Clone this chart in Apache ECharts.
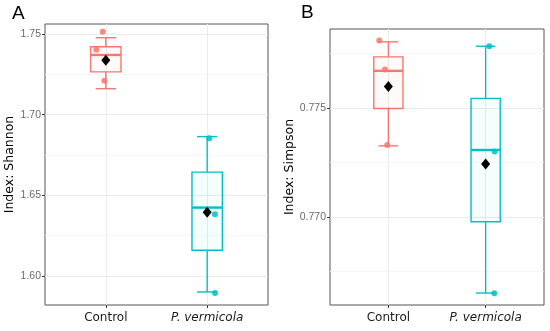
<!DOCTYPE html>
<html>
<head>
<meta charset="utf-8">
<script src="https://cdn.jsdelivr.net/npm/echarts@6/dist/echarts.min.js"></script>
<style>
html,body{margin:0;padding:0;background:#fff;}
#chart{width:550px;height:331px;}
</style>
</head>
<body>
<div id="chart"></div>
<script>
// ---- data ----
const categories = ['Control', 'P. vermicola'];
const groupPositions = [1, 2];

// boxplot stats: [lower whisker, Q1, median, Q3, upper whisker]
const shannonStats = [
  [1.7161, 1.7265, 1.7370, 1.7421, 1.7477],
  [1.5901, 1.6159, 1.6424, 1.6644, 1.6864]
];
const shannonMeans = [1.7337, 1.6395];
const shannonPoints = [
  [1.7514, 1.7403, 1.7210],
  [1.6853, 1.6382, 1.5895]
];
const shannonJitter = [
  [-0.031, -0.094, -0.015],
  [0.021, 0.077, 0.077]
];
const shannonTicks = [1.60, 1.65, 1.70, 1.75];
const shannonMinorTicks = [1.625, 1.675, 1.725];

const simpsonStats = [
  [0.77326, 0.77497, 0.77670, 0.77734, 0.77803],
  [0.76651, 0.76978, 0.77307, 0.77544, 0.77783]
];
const simpsonMeans = [0.77598, 0.77243];
const simpsonPoints = [
  [0.77809, 0.77676, 0.77330],
  [0.77783, 0.77300, 0.76650]
];
const simpsonJitter = [
  [-0.093, -0.035, -0.011],
  [0.038, 0.093, 0.089]
];
const simpsonTicks = [0.765, 0.770, 0.775];
const simpsonMinorTicks = [0.7675, 0.7725, 0.7775];

// ---- styling ----
const colors = ['#F8766D', '#00BFC4'];
const fills = ['rgba(248,118,109,0.035)', 'rgba(0,191,196,0.035)'];
const BOX_WIDTH = 0.30;
const CAP_WIDTH = 0.20;
const tickFont = 'Liberation Sans Narrow, Liberation Sans, sans-serif';
const textFont = 'DejaVu Sans, sans-serif';

function renderBox(params, api) {
  const i = params.dataIndex;
  const x = api.value(0);
  const lo = api.coord([x, api.value(1)]);
  const q1 = api.coord([x, api.value(2)]);
  const med = api.coord([x, api.value(3)]);
  const q3 = api.coord([x, api.value(4)]);
  const hi = api.coord([x, api.value(5)]);
  const hb = api.size([BOX_WIDTH, 0])[0] / 2;
  const hc = api.size([CAP_WIDTH, 0])[0] / 2;
  const cx = lo[0];
  const stroke = {stroke: colors[i], lineWidth: 1.4};
  return {
    type: 'group',
    children: [
      {type: 'line', shape: {x1: cx, y1: lo[1], x2: cx, y2: q1[1]}, style: stroke},
      {type: 'line', shape: {x1: cx, y1: q3[1], x2: cx, y2: hi[1]}, style: stroke},
      {type: 'line', shape: {x1: cx - hc, y1: lo[1], x2: cx + hc, y2: lo[1]}, style: stroke},
      {type: 'line', shape: {x1: cx - hc, y1: hi[1], x2: cx + hc, y2: hi[1]}, style: stroke},
      {type: 'rect', shape: {x: cx - hb, y: q3[1], width: 2 * hb, height: q1[1] - q3[1]},
        style: {fill: fills[i], stroke: colors[i], lineWidth: 1.4}},
      {type: 'line', shape: {x1: cx - hb, y1: med[1], x2: cx + hb, y2: med[1]},
        style: {stroke: colors[i], lineWidth: 2.4}}
    ]
  };
}

function xAxisCfg(gridIndex) {
  return {
    type: 'value', gridIndex: gridIndex, min: 0.4, max: 2.6,
    axisLine: {show: false},
    axisTick: {show: true, length: 3, customValues: groupPositions, lineStyle: {color: '#333', width: 1}},
    axisLabel: {
      customValues: groupPositions, margin: 7, fontSize: 12, fontFamily: textFont, color: '#1a1a1a',
      formatter: function (v) {
        const name = categories[Math.round(v) - 1];
        return name.indexOf('P.') === 0 ? '{it|' + name + '}' : name;
      },
      rich: {it: {fontStyle: 'italic', fontSize: 12, fontFamily: textFont, color: '#1a1a1a'}}
    },
    splitLine: {show: true, lineStyle: {color: '#EBEBEB', width: 1}}
  };
}

function yAxisCfgs(gridIndex, min, max, ticks, minor, name, nameGap, decimals) {
  return [
    {
      type: 'value', gridIndex: gridIndex, min: min, max: max, position: 'left',
      name: name, nameLocation: 'middle', nameGap: nameGap,
      nameTextStyle: {fontSize: 12.5, fontFamily: textFont, color: '#000'},
      axisLine: {show: false},
      axisTick: {show: true, length: 3, customValues: ticks, lineStyle: {color: '#333', width: 1}},
      axisLabel: {customValues: ticks, margin: 4, fontSize: 10.5, fontFamily: tickFont, color: '#6b6b6b',
        formatter: function (v) { return v.toFixed(decimals); }},
      splitLine: {show: true, lineStyle: {color: '#EBEBEB', width: 1}}
    },
    {
      type: 'value', gridIndex: gridIndex, min: min, max: max, position: 'left',
      axisLine: {show: false},
      axisTick: {show: false, customValues: minor},
      axisLabel: {show: false, customValues: minor},
      splitLine: {show: true, lineStyle: {color: '#F4F4F4', width: 0.8}}
    }
  ];
}

function seriesFor(xi, yi, stats, means, points, jitter) {
  const out = [];
  out.push({
    type: 'custom', xAxisIndex: xi, yAxisIndex: yi, renderItem: renderBox,
    encode: {x: 0, y: [1, 2, 3, 4, 5]},
    data: stats.map((s, i) => [groupPositions[i]].concat(s)), z: 2, silent: true
  });
  points.forEach((vals, g) => {
    out.push({
      type: 'scatter', xAxisIndex: xi, yAxisIndex: yi, symbol: 'circle', symbolSize: 6,
      itemStyle: {color: colors[g], opacity: 0.85}, z: 3, silent: true,
      data: vals.map((v, k) => [groupPositions[g] + jitter[g][k], v])
    });
  });
  out.push({
    type: 'scatter', xAxisIndex: xi, yAxisIndex: yi, symbol: 'diamond', symbolSize: [9, 11],
    itemStyle: {color: '#000', opacity: 1}, z: 4, silent: true,
    data: means.map((m, g) => [groupPositions[g], m])
  });
  return out;
}

const chart = echarts.init(document.getElementById('chart'), null, {renderer: 'canvas'});
chart.setOption({
  animation: false,
  backgroundColor: '#fff',
  title: [
    {text: 'A', left: 12, top: 4, padding: 0, textStyle: {fontSize: 19, fontWeight: 'normal', color: '#000', fontFamily: 'Liberation Sans, sans-serif'}},
    {text: 'B', left: 301, top: 3, padding: 0, textStyle: {fontSize: 19, fontWeight: 'normal', color: '#000', fontFamily: 'Liberation Sans, sans-serif'}}
  ],
  grid: [
    {left: 45, top: 24, width: 223, height: 281, show: true, borderColor: '#555', borderWidth: 1, backgroundColor: 'transparent'},
    {left: 330, top: 29, width: 214, height: 276, show: true, borderColor: '#555', borderWidth: 1, backgroundColor: 'transparent'}
  ],
  xAxis: [xAxisCfg(0), xAxisCfg(1)],
  yAxis: yAxisCfgs(0, 1.582, 1.7562, shannonTicks, shannonMinorTicks, 'Index: Shannon', 27, 2)
    .concat(yAxisCfgs(1, 0.76596, 0.77862, simpsonTicks, simpsonMinorTicks, 'Index: Simpson', 31, 3)),
  series: seriesFor(0, 0, shannonStats, shannonMeans, shannonPoints, shannonJitter)
    .concat(seriesFor(1, 2, simpsonStats, simpsonMeans, simpsonPoints, simpsonJitter))
});
</script>
</body>
</html>
